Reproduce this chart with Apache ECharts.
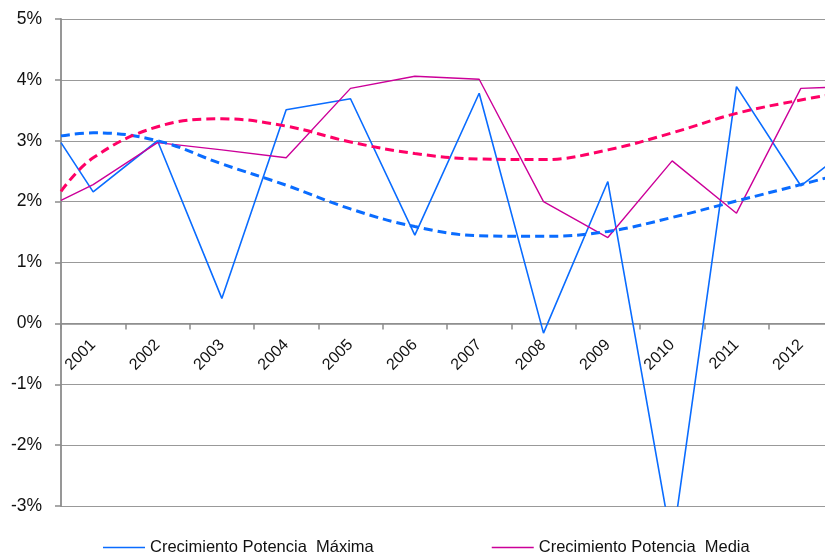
<!DOCTYPE html>
<html>
<head>
<meta charset="utf-8">
<script src="https://cdn.jsdelivr.net/npm/echarts@6/dist/echarts.min.js"></script>
<style>
  html, body { margin: 0; padding: 0; background: #fff; }
  #chart { width: 825px; height: 557px; }
</style>
</head>
<body>
<div id="chart"></div>
<script>
// años del eje X
const years = ['2001', '2002', '2003', '2004', '2005', '2006', '2007', '2008', '2009', '2010', '2011', '2012']

// cada serie: inicio del primer año, centro de cada año, fin del último año (%)
const potenciaMaxima = [2.97, 2.16, 3.0, 0.41, 3.51, 3.69, 1.45, 3.78, -0.16, 2.33, -3.65, 3.89, 2.26, 2.67]
const potenciaMedia = [2.02, 2.28, 2.97, 2.85, 2.72, 3.86, 4.06, 4.01, 2.0, 1.41, 2.67, 1.81, 3.86, 3.88]
const tendenciaMaxima = [3.08, 3.13, 3.0, 2.62, 2.27, 1.88, 1.59, 1.44, 1.43, 1.51, 1.74, 2.01, 2.28, 2.42]
const tendenciaMedia = [2.17, 2.72, 3.23, 3.36, 3.24, 2.98, 2.79, 2.7, 2.69, 2.85, 3.13, 3.45, 3.67, 3.76]

const yMin = -3
const yMax = 5
const yStep = 1

const legendNames = ['Crecimiento Potencia  Máxima', 'Crecimiento Potencia  Media']

const BLUE = '#0a6cff'
const MAGENTA = '#cc0099'
const PINK = '#ff0066'
const AXIS = '#8c8c8c'
const FONT = "'Liberation Sans', Arial, sans-serif"

const GRID = { left: 61, right: -8, top: 19, bottom: 51 }
const plotHeight = 557 - GRID.top - GRID.bottom
// el eje de categorías se dibuja sobre el 0%
const zeroOffset = -plotHeight * (0 - yMin) / (yMax - yMin)

// posición en el eje de valores oculto (0 .. 12 años)
const positions = [0, ...years.map((_, i) => i + 0.5), years.length]
const pairs = vals => vals.map((v, i) => [positions[i], v])

const chart = echarts.init(document.getElementById('chart'))

chart.setOption({
  animation: false,
  backgroundColor: '#fff',
  grid: { ...GRID, containLabel: false, outerBoundsMode: 'none' },
  legend: {
    data: legendNames,
    left: 103, top: 539, padding: 0,
    icon: 'rect',
    itemWidth: 42, itemHeight: 1.5, itemGap: 118,
    textStyle: { fontFamily: FONT, fontSize: 16.5, color: '#111' }
  },
  xAxis: [
    {
      type: 'category', data: years, boundaryGap: true,
      offset: zeroOffset,
      axisLine: { onZero: false, lineStyle: { color: AXIS, width: 1.5 } },
      axisTick: { show: true, length: 6, lineStyle: { color: AXIS, width: 1.5 } },
      axisLabel: { rotate: 45, margin: 19, fontFamily: FONT, fontSize: 16, color: '#111' },
      splitLine: { show: false }
    },
    { type: 'value', min: 0, max: years.length, show: false }
  ],
  yAxis: {
    type: 'value', min: yMin, max: yMax, interval: yStep,
    axisLine: { show: true, onZero: false, lineStyle: { color: AXIS, width: 1.8 } },
    axisTick: { show: true, length: 6, lineStyle: { color: AXIS, width: 1.5 } },
    axisLabel: { formatter: '{value}%', margin: 19, fontFamily: FONT, fontSize: 17.5, color: '#111' },
    splitLine: { lineStyle: { color: '#999', width: 1.2 } }
  },
  series: [
    {
      name: legendNames[0], type: 'line', xAxisIndex: 1,
      data: pairs(potenciaMaxima), symbol: 'none',
      lineStyle: { color: BLUE, width: 1.6 }, itemStyle: { color: BLUE }
    },
    {
      name: legendNames[1], type: 'line', xAxisIndex: 1,
      data: pairs(potenciaMedia), symbol: 'none',
      lineStyle: { color: MAGENTA, width: 1.4 }, itemStyle: { color: MAGENTA }
    },
    {
      name: 'Tendencia Máxima', type: 'line', xAxisIndex: 1,
      data: pairs(tendenciaMaxima), symbol: 'none', smooth: 0.4,
      lineStyle: { color: BLUE, width: 3, type: [9, 5] }
    },
    {
      name: 'Tendencia Media', type: 'line', xAxisIndex: 1,
      data: pairs(tendenciaMedia), symbol: 'none', smooth: 0.4,
      lineStyle: { color: PINK, width: 3, type: [9, 5] }
    }
  ]
})
</script>
</body>
</html>
